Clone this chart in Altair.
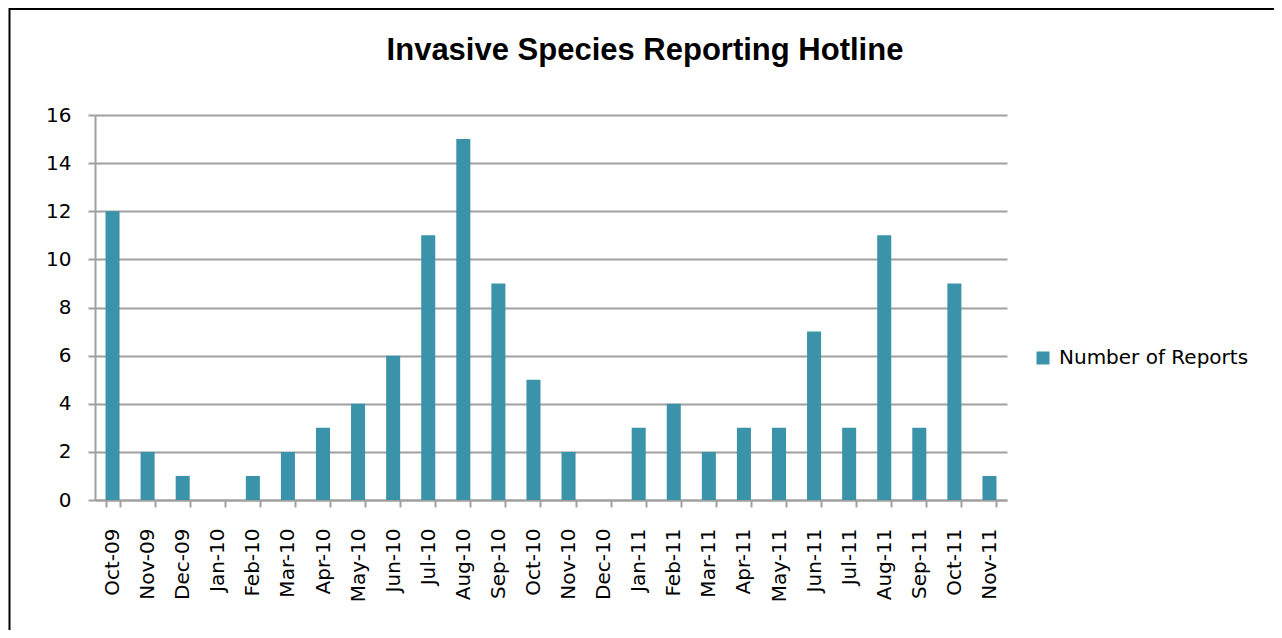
import altair as alt
import pandas as pd

months = ["Oct-09", "Nov-09", "Dec-09", "Jan-10", "Feb-10", "Mar-10", "Apr-10", "May-10",
          "Jun-10", "Jul-10", "Aug-10", "Sep-10", "Oct-10", "Nov-10", "Dec-10", "Jan-11",
          "Feb-11", "Mar-11", "Apr-11", "May-11", "Jun-11", "Jul-11", "Aug-11", "Sep-11",
          "Oct-11", "Nov-11"]
reports = [12, 2, 1, 0, 1, 2, 3, 4, 6, 11, 15, 9, 5, 2, 0, 3, 4, 2, 3, 3, 7, 3, 11, 3, 9, 1]
series_name = "Number of Reports"
title_text = "Invasive Species Reporting Hotline"
y_ticks = [0, 2, 4, 6, 8, 10, 12, 14, 16]

df = pd.DataFrame({"month": months, "reports": reports, "series": [series_name] * len(months)})

FONT = "DejaVu Sans"
GRID = "#A0A0A0"
BAR = "#3A93A9"

bars = alt.Chart(df).mark_bar(color=BAR).encode(
    x=alt.X("month:N", sort=months,
            scale=alt.Scale(paddingInner=0.6, paddingOuter=0.3),
            axis=alt.Axis(title=None, labelAngle=-90, labelFontSize=20, labelFont=FONT,
                          labelColor="black", labelPadding=21, tickBand="extent",
                          tickSize=7, tickColor=GRID, tickWidth=2, domainColor=GRID,
                          domainWidth=2, grid=False, labelAlign="right",
                          labelBaseline="middle")),
    y=alt.Y("reports:Q", scale=alt.Scale(domain=[0, 16], nice=False),
            axis=alt.Axis(title=None, values=y_ticks, labelFontSize=20, labelFont=FONT,
                          labelColor="black", labelPadding=17, tickSize=7, tickColor=GRID,
                          tickWidth=2, domainColor=GRID, domainWidth=2, gridColor=GRID,
                          gridWidth=2)),
    color=alt.Color("series:N", scale=alt.Scale(range=[BAR]),
                    legend=alt.Legend(title=None, orient="none", legendX=938, legendY=233,
                                      symbolType="square", symbolSize=169,
                                      symbolStrokeWidth=0, labelFontSize=20,
                                      labelFont=FONT, labelColor="black", labelOffset=6,
                                      labelLimit=400)),
)

border = alt.Chart(pd.DataFrame({"b": [0]})).mark_rect(
    fill=None, stroke="black", strokeWidth=2
).encode(
    x=alt.value(-85.5), x2=alt.value(1300), y=alt.value(-106), y2=alt.value(700)
)

title = alt.Chart(pd.DataFrame({"t": [title_text]})).mark_text(
    font="Liberation Sans", fontSize=31, fontWeight="bold", color="black",
    align="center", baseline="alphabetic"
).encode(
    text="t:N", x=alt.value(550), y=alt.value(-55)
)

chart = alt.layer(border, bars, title).properties(
    width=912,
    height=385,
    autosize=alt.AutoSizeParams(type="none"),
    padding={"left": 87, "top": 107, "right": 267, "bottom": 130},
).configure(background="white").configure_view(stroke=None)

chart.save("out.html", embed_options={"renderer": "svg", "actions": False})
